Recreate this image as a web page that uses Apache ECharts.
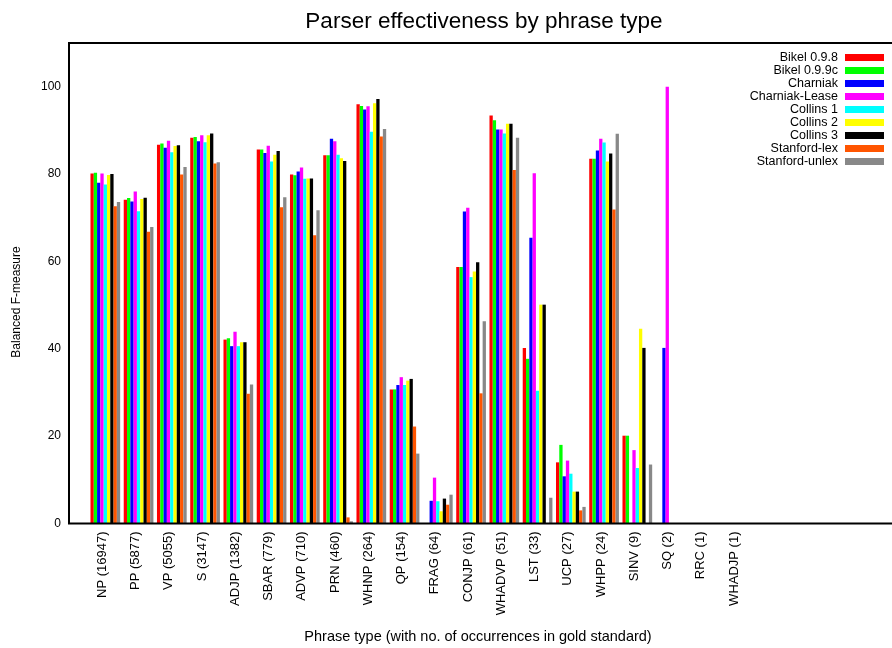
<!DOCTYPE html>
<html>
<head>
<meta charset="utf-8">
<script src="https://cdn.jsdelivr.net/npm/echarts@6/dist/echarts.min.js"></script>
<style>
html,body{margin:0;padding:0;background:#fff;}
#chart{width:892px;height:648px;}
</style>
</head>
<body>
<div id="chart"></div>
<script>
var categories = ['NP (16947)','PP (5877)','VP (5055)','S (3147)','ADJP (1382)','SBAR (779)','ADVP (710)','PRN (460)','WHNP (264)','QP (154)','FRAG (64)','CONJP (61)','WHADVP (51)','LST (33)','UCP (27)','WHPP (24)','SINV (9)','SQ (2)','RRC (1)','WHADJP (1)'];
var seriesNames = ['Bikel 0.9.8','Bikel 0.9.9c','Charniak','Charniak-Lease','Collins 1','Collins 2','Collins 3','Stanford-lex','Stanford-unlex'];
var colors = ['#ff0000','#00ff00','#0000ff','#ff00ff','#00ffff','#ffff00','#000000','#ff5500','#888888'];
var bikel098    = [80.1,74.1,86.7,88.3,42.1,85.6,79.9,84.3,96.0,30.7,0,58.7,93.4,40.2,14.0,83.5,20.1,0,0,0];
var bikel099c   = [80.3,74.5,87.0,88.5,42.4,85.6,79.7,84.3,95.6,30.7,0,58.7,92.3,37.7,18.0,83.5,20.1,0,0,0];
var charniak    = [78.0,73.7,86.0,87.5,40.6,84.8,80.6,88.1,94.8,31.7,5.2,71.4,90.2,65.4,10.8,85.4,0,40.2,0,0];
var charniakLease = [80.1,76.0,87.6,88.9,43.9,86.5,81.5,87.5,95.5,33.5,10.5,72.3,90.2,80.2,14.4,88.1,16.8,100,0,0];
var collins1    = [77.6,71.5,85.0,87.3,40.6,82.9,78.9,84.4,89.7,31.7,5.1,56.4,89.3,30.4,11.4,87.2,12.7,0,0,0];
var collins2    = [79.8,74.3,86.4,88.9,41.5,84.4,79.0,83.6,96.2,32.7,2.8,57.7,91.5,50.1,7.3,82.9,44.6,0,0,0];
var collins3    = [80.0,74.6,86.6,89.3,41.5,85.3,79.0,83.0,97.2,33.1,5.7,59.8,91.5,50.1,7.3,84.7,40.2,0,0,0];
var stanfordLex = [72.6,66.8,79.9,82.4,29.7,72.4,66.0,1.4,88.6,22.2,4.3,29.8,80.9,0,3.0,71.9,0,0,0,0];
var stanfordUnlex = [73.6,67.9,81.6,82.7,31.8,74.7,71.7,0.5,90.3,16.0,6.6,46.3,88.3,5.9,3.8,89.2,13.5,0,0,0];
var allData = [bikel098,bikel099c,charniak,charniakLease,collins1,collins2,collins3,stanfordLex,stanfordUnlex];
var yTicks = [0,20,40,60,80,100];

var labelCats = [''].concat(categories, ['','','','','']);
var FONT = 'Liberation Sans';

var chart = echarts.init(document.getElementById('chart'), null, {renderer:'canvas'});
var series = seriesNames.map(function(n,i){
  return {
    name: n, type: 'bar', xAxisIndex: 1, yAxisIndex: 1,
    data: allData[i], barWidth: 3.3, barGap: '0%',
    itemStyle: {color: colors[i]},
    emphasis: {disabled: true}, silent: true, z: 2
  };
});
chart.setOption({
  animation: false,
  backgroundColor: '#fff',
  grid: [
    {left: 69, right: -8.25, top: 43, bottom: 124.5, show: true, borderColor: '#000', borderWidth: 2, backgroundColor: 'transparent', z: 10, outerBoundsMode: 'none', containLabel: false},
    {left: 88.7, right: 138.3, top: 43, bottom: 124.5, outerBoundsMode: 'none', containLabel: false}
  ],
  xAxis: [
    {type: 'category', gridIndex: 0, data: labelCats, boundaryGap: false,
     axisLine: {show: false}, axisTick: {show: false}, splitLine: {show: false},
     axisLabel: {rotate: 90, interval: 0, margin: 8, fontSize: 13, color: '#000', fontFamily: FONT}},
    {type: 'category', gridIndex: 1, data: categories, show: false}
  ],
  yAxis: [
    {type: 'value', gridIndex: 0, min: 0, max: 110, interval: 20,
     axisLine: {show: false}, axisTick: {show: false}, splitLine: {show: false},
     axisLabel: {showMaxLabel: false, margin: 8, fontSize: 12, color: '#000', fontFamily: FONT,
       formatter: function(v){ return yTicks.indexOf(v) >= 0 ? String(v) : ''; }}},
    {type: 'value', gridIndex: 1, min: 0, max: 110, show: false}
  ],
  legend: {
    data: seriesNames, orient: 'vertical', right: 8, top: 51, align: 'right', padding: 0,
    icon: 'rect', itemWidth: 39, itemHeight: 7, itemGap: 0,
    textStyle: {fontSize: 12.5, lineHeight: 12.9, color: '#000', fontFamily: FONT, padding: [0, 2, 0, 0]},
    selectedMode: false
  },
  graphic: [
    {type: 'text', x: 484, y: 22, style: {text: 'Parser effectiveness by phrase type', fontSize: 22.5, fontFamily: FONT, fill: '#000', textAlign: 'center', textVerticalAlign: 'middle'}},
    {type: 'text', x: 17, y: 302, rotation: Math.PI/2, style: {text: 'Balanced F-measure', fontSize: 12, fontFamily: FONT, fill: '#000', textAlign: 'center', textVerticalAlign: 'middle'}},
    {type: 'text', x: 478, y: 637, style: {text: 'Phrase type (with no. of occurrences in gold standard)', fontSize: 14.5, fontFamily: FONT, fill: '#000', textAlign: 'center', textVerticalAlign: 'middle'}}
  ],
  series: series
});
</script>
</body>
</html>
